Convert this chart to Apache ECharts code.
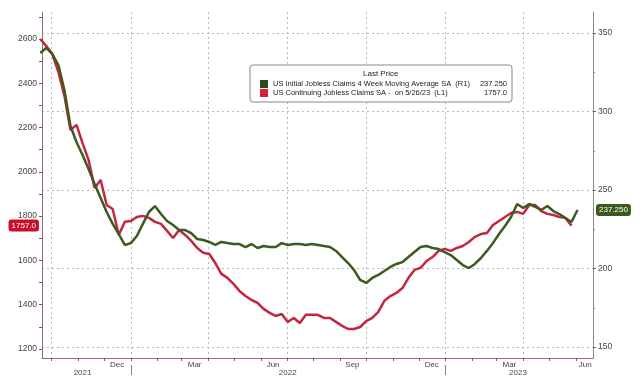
<!DOCTYPE html>
<html><head><meta charset="utf-8">
<script src="https://cdn.jsdelivr.net/npm/echarts@6/dist/echarts.min.js"></script>
<style>html,body{margin:0;padding:0;background:#fff}#c{width:640px;height:392px}</style>
</head><body><div id="c"></div>
<script>
// ---- data (weekly, week ending Saturday) ----
const initialStart = [2021, 8, 18];   // Sep 18 2021
const initialClaims4wk = [
  337.3, 340.5, 336.6, 329.6, 313.7, 290.8, 280.6, 272.3, 263.4, 253.8,
  244.9, 236.0, 228.4, 222.0, 215.0, 216.2, 220.7, 228.4, 236.0, 239.8,
  234.7, 230.3, 227.7, 224.5, 224.5, 222.6, 218.8, 218.2, 216.9, 215.0,
  216.9, 216.2, 215.6, 215.6, 213.7, 215.6, 213.1, 214.3, 213.7, 213.7,
  216.2, 215.0, 215.6, 215.6, 215.0, 215.6, 215.0, 214.3, 213.7, 211.2,
  207.3, 203.5, 199.0, 192.7, 190.8, 194.0, 195.9, 198.4, 201.0, 202.9,
  204.1, 207.3, 210.5, 213.7, 214.3, 213.1, 212.4, 210.5, 208.6, 205.4,
  202.2, 200.3, 202.9, 206.7, 211.2, 216.2, 222.0, 227.1, 232.8, 241.1,
  238.5, 241.1, 239.2, 237.3, 239.8, 236.6, 234.7, 232.2, 229.6, 237.25
];
const continuingStart = [2021, 8, 18]; // Sep 18 2021
const continuingClaims = [
  2600, 2568, 2532, 2451, 2343, 2189, 2212, 2130, 2054, 1927,
  1963, 1850, 1832, 1715, 1774, 1778, 1796, 1801, 1792, 1774,
  1765, 1733, 1701, 1737, 1715, 1688, 1656, 1634, 1629, 1588,
  1539, 1521, 1494, 1462, 1439, 1421, 1408, 1381, 1363, 1349,
  1358, 1322, 1340, 1317, 1354, 1354, 1354, 1340, 1340, 1322,
  1304, 1290, 1290, 1299, 1326, 1340, 1367, 1417, 1439, 1453,
  1475, 1521, 1557, 1566, 1597, 1615, 1643, 1652, 1643, 1656,
  1665, 1683, 1706, 1719, 1724, 1760, 1778, 1796, 1814, 1819,
  1810, 1850, 1850, 1823, 1810, 1805, 1796, 1792, 1757
];
const initialName = 'US Initial Jobless Claims 4 Week Moving Average SA  (R1)';
const continuingName = 'US Continuing Jobless Claims SA -  on 5/26/23  (L1)';

const leftTickLabels = [1200, 1400, 1600, 1800, 2000, 2200, 2400, 2600];
const leftTickMarks = [1200, 1300, 1400, 1500, 1600, 1700, 1800, 1900, 2000, 2100, 2200, 2300, 2400, 2500, 2600, 2700];
const rightTickLabels = [150, 200, 250, 300, 350];
const rightMinorTicks = [175, 225, 275, 325];
const monthLabelDates = [[2021,11,16],[2022,2,16],[2022,5,15],[2022,8,15],[2022,11,16],[2023,2,16],[2023,5,12]];
const monthLabels = ['Dec', 'Mar', 'Jun', 'Sep', 'Dec', 'Mar', 'Jun'];
const yearLabelDates = [[2021,10,6],[2022,6,2],[2023,2,26]];
const yearLabels = ['2021', '2022', '2023'];
const yearBreaks = [[2022,0,1],[2023,0,1]];

// ---- helpers ----
const ts = a => new Date(a[0], a[1], a[2]).getTime();
const DAY = 864e5;
function weekly(start, vals) {
  const t0 = ts(start);
  return vals.map((v, i) => [t0 + i * 7 * DAY, v]);
}
const xMin = ts([2021, 8, 20]);
const xMax = ts([2023, 5, 21]);
const monthStarts = [], quarterStarts = [];
for (let y = 2021; y <= 2023; y++) for (let m = 0; m < 12; m++) {
  const t = ts([y, m, 1]);
  if (t >= xMin && t <= xMax) { monthStarts.push(t); if (m % 3 === 0) quarterStarts.push(t); }
}
const monthMap = {}; monthLabelDates.forEach((d, i) => monthMap[ts(d)] = monthLabels[i]);
const yearMap = {}; yearLabelDates.forEach((d, i) => yearMap[ts(d)] = yearLabels[i]);

const FONT = 'Liberation Sans';
const GREEN = '#3d5a20', RED = '#c42640';
const lastInit = initialClaims4wk[initialClaims4wk.length - 1];
const lastCont = continuingClaims[continuingClaims.length - 1];
const legendVals = {};
legendVals[initialName] = lastInit.toFixed(3);
legendVals[continuingName] = lastCont.toFixed(1);

const chart = echarts.init(document.getElementById('c'), null, {renderer: 'canvas'});
const gridDash = {type: [2, 3], color: '#b8b8b8', width: 1};
chart.setOption({
  animation: false,
  backgroundColor: '#fff',
  axisPointer: {triggerOn: 'none'},
  title: {text: 'Last Price', left: 363, top: 70, padding: 0,
    textStyle: {fontFamily: FONT, fontSize: 8, fontWeight: 'normal', color: '#222'}},
  legend: {
    data: [{name: initialName, itemStyle: {color: '#2f4a18'}}, {name: continuingName, itemStyle: {color: '#d61f3a'}}],
    orient: 'vertical', left: 250, top: 65, padding: [15, 5, 5, 10], itemGap: 1,
    itemWidth: 8, itemHeight: 8, icon: 'rect', selectedMode: false,
    borderColor: '#888', borderWidth: 1, borderRadius: 3, backgroundColor: '#fff',
    formatter: n => '{n|' + n + '}{v|' + legendVals[n] + '}',
    textStyle: {fontFamily: FONT, fontSize: 7.5, color: '#222',
      rich: {n: {width: 196, fontFamily: FONT, fontSize: 7.5, color: '#222'},
             v: {width: 38, align: 'right', fontFamily: FONT, fontSize: 7.5, color: '#222'}}}
  },
  grid: {left: 42, right: 47, top: 12, bottom: 34},
  xAxis: [
    {type: 'value', min: xMin, max: xMax, position: 'bottom',
      axisLine: {show: true, lineStyle: {color: '#9a6a70', width: 1}},
      axisTick: {show: true, customValues: monthStarts, length: 3, lineStyle: {color: '#666'}},
      axisLabel: {show: true, customValues: monthLabelDates.map(ts), formatter: v => monthMap[v] || '',
        fontFamily: FONT, fontSize: 8, color: '#444', margin: 3},
      splitLine: {show: false}},
    {type: 'value', min: xMin, max: xMax, position: 'bottom',
      axisLine: {show: false}, axisTick: {show: false, customValues: quarterStarts},
      axisLabel: {show: false}, splitLine: {show: true, lineStyle: gridDash}},
    {type: 'value', min: xMin, max: xMax, position: 'bottom', offset: 7,
      axisLine: {show: false},
      axisTick: {show: true, customValues: yearBreaks.map(ts), length: 10, lineStyle: {color: '#888'}},
      axisLabel: {show: true, customValues: yearLabelDates.map(ts), formatter: v => yearMap[v] || '',
        fontFamily: FONT, fontSize: 8, color: '#444', margin: 4},
      splitLine: {show: false}}
  ],
  yAxis: [
    {type: 'value', position: 'left', min: 1159, max: 2722,
      axisLine: {show: true, lineStyle: {color: '#9a6a70'}},
      axisTick: {show: true, customValues: leftTickMarks, length: 3, lineStyle: {color: '#666'}},
      axisLabel: {customValues: leftTickLabels, formatter: v => String(v),
        fontFamily: FONT, fontSize: 8.5, color: '#444', margin: 5},
      splitLine: {show: false},
      axisPointer: {show: true, type: 'line', value: lastCont, status: 'show', triggerTooltip: false,
        lineStyle: {opacity: 0},
        label: {show: true, formatter: p => Number(p.value).toFixed(1), backgroundColor: '#c8102e',
          color: '#fff', fontFamily: FONT, fontSize: 8, padding: [2, 3], margin: 3}}},
    {type: 'value', position: 'right', min: 143, max: 363.4,
      axisLine: {show: true, lineStyle: {color: '#8a8a76'}},
      axisTick: {show: true, customValues: rightTickLabels, length: 3, lineStyle: {color: '#666'}},
      axisLabel: {customValues: rightTickLabels, formatter: v => String(v),
        fontFamily: FONT, fontSize: 8.5, color: '#444', margin: 5},
      splitLine: {show: true, lineStyle: gridDash},
      axisPointer: {show: true, type: 'line', value: lastInit, status: 'show', triggerTooltip: false,
        lineStyle: {opacity: 0},
        label: {show: true, formatter: p => Number(p.value).toFixed(3), backgroundColor: '#3a5a1c',
          color: '#fff', fontFamily: FONT, fontSize: 8, padding: [2, 3], margin: 3}}},
    {type: 'value', position: 'right', min: 143, max: 363.4,
      axisLine: {show: false},
      axisTick: {show: true, customValues: rightMinorTicks, length: 2, lineStyle: {color: '#888'}},
      axisLabel: {show: false}, splitLine: {show: false}}
  ],
  series: [
    {name: continuingName, type: 'line', xAxisIndex: 0, yAxisIndex: 0, showSymbol: false, z: 2,
      data: weekly(continuingStart, continuingClaims), color: RED,
      lineStyle: {color: RED, width: 2.5}},
    {name: initialName, type: 'line', xAxisIndex: 0, yAxisIndex: 1, showSymbol: false, z: 3,
      data: weekly(initialStart, initialClaims4wk), color: GREEN,
      lineStyle: {color: GREEN, width: 2.5}}
  ]
});
</script></body></html>
